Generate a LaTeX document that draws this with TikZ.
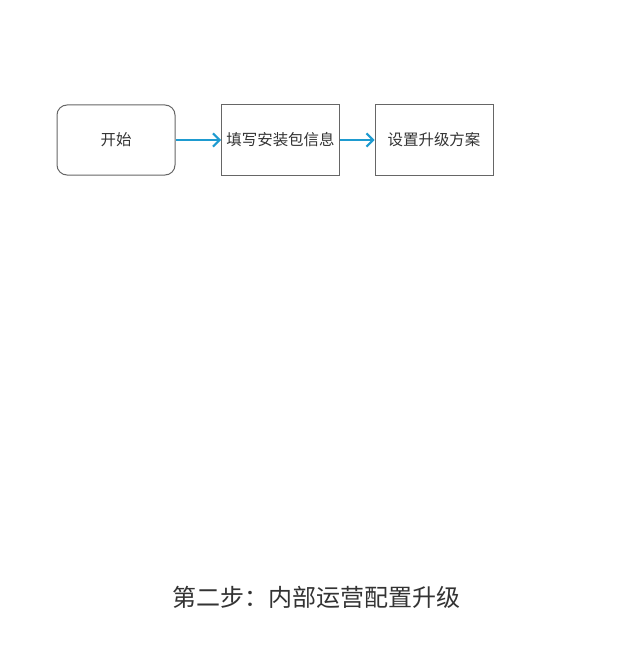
\documentclass[tikz,border=0pt]{standalone}
\usepackage{fontspec}
\setmainfont{Noto Sans CJK SC}
\usetikzlibrary{arrows.meta}
\definecolor{arrowblue}{HTML}{1E9BD0}
\definecolor{boxgray}{HTML}{666666}
\definecolor{txt}{HTML}{333333}
\begin{document}
\begin{tikzpicture}[x=0.75pt,y=-0.75pt,
  base/.style={draw=boxgray,line width=0.75pt,minimum width=88.5pt,minimum height=52.5pt,inner sep=0pt,text=txt,font=\fontsize{11.6pt}{14pt}\selectfont},
  roundbox/.style={base,rounded corners=7.5pt},
  plainbox/.style={base},
  flow/.style={draw=arrowblue,line width=1.5pt,-{Straight Barb[length=5pt,width=10pt,line width=1.5pt]}}]
\useasboundingbox (0,0) rectangle (622,656);
\node[roundbox] (start) at (116,140) {开始};
\node[plainbox] (fill) at (280.5,140) {填写安装包信息};
\node[plainbox] (plan) at (434,140) {设置升级方案};
\draw[flow] (start) -- (fill);
\draw[flow] (fill) -- (plan);
\node[text=txt,font=\fontsize{18pt}{22pt}\selectfont] (title) at (316,597) {第二步：内部运营配置升级};
\end{tikzpicture}
\end{document}
